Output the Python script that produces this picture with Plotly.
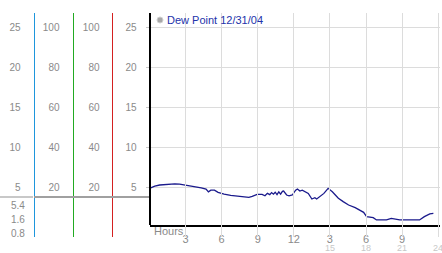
import plotly.graph_objects as go

W, H = 442, 253

# ---- data ----
hours = [0, 0.17, 0.44, 0.85, 1.26, 1.7, 2.1, 2.5, 2.9, 3.35,
         3.75, 4.3, 4.7, 4.9, 5.1, 5.4, 5.7, 6.2, 6.75, 7.3,
         7.85, 8.26, 8.54, 8.95, 9.36, 9.6, 9.8, 10.0, 10.15, 10.3,
         10.45, 10.6, 10.75, 10.9, 11.05, 11.15, 11.4, 11.6, 11.87, 12.15,
         12.3, 12.5, 12.7, 12.97, 13.2, 13.5, 13.75, 13.9, 14.2, 14.5,
         14.85, 15.05, 15.2, 15.45, 15.7, 16.1, 16.55, 17.1, 17.5, 17.8,
         18.05, 18.6, 18.87, 19.7, 20.1, 20.5, 20.8, 22.45, 22.85, 23.3, 23.6]
dew = [4.83, 4.96, 5.1, 5.25, 5.33, 5.38, 5.4, 5.35, 5.25, 5.18,
       5.1, 4.9, 4.75, 4.4, 4.6, 4.6, 4.33, 4.1, 3.95, 3.88,
       3.83, 3.7, 3.83, 4.08, 4.08, 3.9, 4.2, 4.05, 4.3, 4.1,
       4.35, 4.05, 4.4, 4.1, 4.45, 4.5, 4.0, 3.9, 4.0, 4.6,
       4.75, 4.5, 4.6, 4.4, 4.2, 3.5, 3.67, 3.5, 3.8, 4.2,
       4.83, 4.6, 4.4, 4.0, 3.6, 3.17, 2.75, 2.42, 2.12, 1.83,
       1.3, 1.17, 0.88, 0.88, 1.08, 0.96, 0.88, 0.88, 1.3, 1.63, 1.7]

x_tickvals = [3, 6, 9, 12, 15, 18, 21, 24]
x_ticktext = ["3", "6", "9", "12", "3", "6", "9", "12"]
x_second_vals = [15, 18, 21, 24]
x_second_text = ["15", "18", "21", "24"]
y_ticks = [5, 10, 15, 20, 25]
pct_ticks = [20, 40, 60, 80, 100]
stats = ["5.4", "1.6", "0.8"]
series_name = "Dew Point 12/31/04"

# ---- pixel helpers ----
def px_x(p): return p / W
def px_y(p): return (H - p) / H

FONT = "Liberation Sans"
GREY = "#8a8a8a"
FS = 10

fig = go.Figure()
fig.add_trace(go.Scatter(x=hours, y=dew, mode="lines",
                         line=dict(color="#1a1a8c", width=1.3),
                         showlegend=False, hoverinfo="skip"))
# empty traces so each extra (free) y axis gets its own subplot
for ax in ["y2", "y3", "y4", "y5"]:
    fig.add_trace(go.Scatter(x=[None], y=[None], yaxis=ax, showlegend=False,
                             hoverinfo="skip"))

top_px, bot_main_px, bot_col_px = 13, 225.4, 237
zero_px, ppu = 227, 8.0

def rng(bot, top, k=1.0):
    return [(zero_px - bot) / ppu * k, (zero_px - top) / ppu * k]

def col_axis(pos, color, tvals, k, width=1, bot=bot_col_px, **kw):
    d = dict(anchor="free", position=px_x(pos), side="left",
             domain=[px_y(bot), px_y(top_px)], range=rng(bot, top_px, k),
             tickvals=tvals, showgrid=False, zeroline=False,
             showline=True, linecolor=color, linewidth=width,
             tickfont=dict(size=FS, color=GREY))
    d.update(kw)
    return d

fig.update_layout(
    width=W, height=H, autosize=False,
    margin=dict(l=0, r=0, t=0, b=0),
    paper_bgcolor="white", plot_bgcolor="rgba(0,0,0,0)",
    font=dict(family=FONT, size=FS, color=GREY),
    xaxis=dict(domain=[px_x(149.5), px_x(440)], range=[0, 24.15],
               tickvals=x_tickvals, ticktext=x_ticktext,
               ticks="outside", ticklen=3, tickcolor="#c8c8c8",
               ticklabelstandoff=-1,
               showgrid=True, gridcolor="#dcdcdc", gridwidth=1,
               showline=True, linecolor="black", linewidth=2,
               zeroline=False, tickfont=dict(size=FS + 1, color=GREY)),
    yaxis=dict(domain=[px_y(bot_main_px), px_y(25)], range=rng(bot_main_px, 25),
               tickvals=y_ticks, showticklabels=False, ticks="",
               showgrid=True, gridcolor="#dcdcdc", gridwidth=1,
               showline=False, zeroline=False),
    yaxis2=col_axis(33.5, "#1e96dc", y_ticks, 1, ticks="", ticklabelstandoff=11),
    yaxis3=col_axis(72.5, "#22aa22", pct_ticks, 4, ticks="", ticklabelstandoff=11),
    yaxis4=col_axis(111.5, "#d42020", pct_ticks, 4, ticks="", ticklabelstandoff=10),
    yaxis5=col_axis(149.5, "black", y_ticks, 1, width=2, bot=bot_main_px,
                    ticks="outside", ticklen=3, tickcolor="#c8c8c8",
                    ticklabelstandoff=7),
)

# separator line on the left panel
fig.add_shape(type="line", xref="paper", yref="paper",
              x0=0, x1=px_x(33), y0=px_y(197), y1=px_y(197),
              line=dict(color="#c8c8c8", width=2))
fig.add_shape(type="line", xref="paper", yref="paper",
              x0=px_x(34), x1=px_x(149), y0=px_y(197), y1=px_y(197),
              line=dict(color="#a0a0a0", width=2))

# stats below separator
for i, s in enumerate(stats):
    fig.add_annotation(text=s, xref="paper", yref="paper",
                       x=px_x(27), y=px_y(205 + 14 * i), xanchor="right", yanchor="middle",
                       showarrow=False, font=dict(size=FS, color=GREY))

# second row of hour labels
for v, t in zip(x_second_vals, x_second_text):
    fig.add_annotation(text=t, xref="x", yref="paper", x=v, y=px_y(248),
                       xanchor="center", yanchor="middle", borderpad=0,
                       showarrow=False, font=dict(size=9, color="#c8c8c8"))

fig.add_annotation(text="Hours", xref="paper", yref="paper", x=px_x(152), y=px_y(231),
                   xanchor="left", yanchor="middle", showarrow=False,
                   font=dict(size=FS + 1, color=GREY))

# legend
fig.add_shape(type="circle", xref="paper", yref="paper",
              x0=px_x(157), x1=px_x(163), y0=px_y(23), y1=px_y(17),
              fillcolor="#a8a8a8", line=dict(color="#d0d0d0", width=1))
fig.add_annotation(text=series_name, xref="paper", yref="paper", x=px_x(165), y=px_y(20),
                   xanchor="left", yanchor="middle", showarrow=False,
                   font=dict(size=11, color="#2233aa"))

fig.write_html("out.html")
